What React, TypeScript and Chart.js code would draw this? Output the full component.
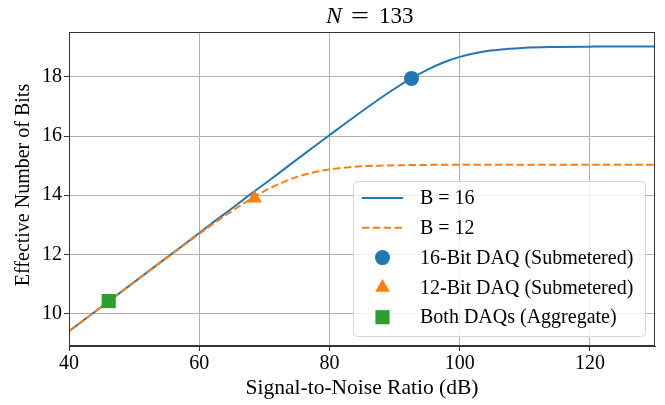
import React, { useEffect, useRef } from "react";
import { Chart, registerables } from "chart.js";

Chart.register(...registerables);

const snrDb = [40, 45, 50, 55, 60, 62.5, 65, 67.5, 70, 72.5, 75, 77.5, 80, 85, 87.5, 90, 92.5, 95, 97.5, 100, 102.5, 105, 107.5, 110, 115, 120, 125, 130];
const enob16 = [9.40, 10.23, 11.06, 11.89, 12.72, 13.14, 13.55, 13.97, 14.38, 14.79, 15.21, 15.62, 16.03, 16.84, 17.23, 17.60, 17.94, 18.24, 18.49, 18.68, 18.81, 18.90, 18.95, 18.99, 19.015, 19.025, 19.03, 19.03];
const enob12 = [9.40, 10.23, 11.06, 11.88, 12.69, 13.09, 13.46, 13.82, 14.14, 14.40, 14.62, 14.77, 14.87, 14.98, 15.0, 15.01, 15.02, 15.025, 15.03, 15.03, 15.03, 15.03, 15.03, 15.03, 15.03, 15.03, 15.03, 15.03];

const daq16Point = { x: 92.6, y: 17.95 };
const daq12Point = { x: 68.5, y: 13.9 };
const aggregatePoint = { x: 46.1, y: 10.42 };

const xTicks = [40, 60, 80, 100, 120];
const yTicks = [10, 12, 14, 16, 18];

const seriesLabels = ["B = 16", "B = 12", "16-Bit DAQ (Submetered)", "12-Bit DAQ (Submetered)", "Both DAQs (Aggregate)"];
const titleVar = "N";
const titleEq = "=";
const titleNum = "133";
const xTitle = "Signal-to-Noise Ratio (dB)";
const yTitle = "Effective Number of Bits";

const FONT = "'Liberation Serif', 'DejaVu Serif', serif";
const BLUE = "#1f77b4";
const ORANGE = "#ff7f0e";
const GREEN = "#2ca02c";

export default function App() {
  const ref = useRef<HTMLCanvasElement | null>(null);
  useEffect(() => {
    const canvas = ref.current!;
    const framePlugin = {
      id: "frame",
      afterDraw(chart: any) {
        const { ctx, chartArea: a } = chart;
        ctx.save();
        ctx.strokeStyle = "#333";
        ctx.lineWidth = 1;
        ctx.strokeRect(a.left + 0.5, a.top + 0.5, a.right - a.left - 1, a.bottom - a.top - 1);
        // title
        const cx = (a.left + a.right) / 2;
        ctx.fillStyle = "#000";
        ctx.textBaseline = "alphabetic";
        ctx.save();
        ctx.translate(cx - 2, 23);
        ctx.scale(1.35, 1);
        ctx.textAlign = "center";
        ctx.font = `24px ${FONT}`;
        ctx.fillText(titleEq, 0, 0);
        ctx.restore();
        ctx.textAlign = "right";
        ctx.font = `italic 24px ${FONT}`;
        ctx.fillText(titleVar, cx - 20, 23);
        ctx.textAlign = "left";
        ctx.font = `23px ${FONT}`;
        ctx.fillText(titleNum, cx + 17, 23);

        // axis titles
        ctx.textAlign = "center";
        ctx.textBaseline = "middle";
        ctx.font = `21.5px ${FONT}`;
        ctx.fillText(xTitle, (a.left + a.right) / 2, 388);
        ctx.save();
        ctx.translate(24, (a.top + a.bottom) / 2 - 4);
        ctx.rotate(-Math.PI / 2);
        ctx.font = `20px ${FONT}`;
        ctx.fillText(yTitle, 0, 0);
        ctx.restore();
        ctx.textAlign = "left";

        // legend
        const lw = 292, lh = 155;
        const lx = a.right - 10 - lw, ly = a.bottom - 10 - lh;
        ctx.beginPath();
        ctx.roundRect(lx + 0.5, ly + 0.5, lw, lh, 4);
        ctx.fillStyle = "rgba(255,255,255,0.8)";
        ctx.fill();
        ctx.strokeStyle = "#d6d6d6";
        ctx.lineWidth = 1;
        ctx.stroke();
        const ds = chart.data.datasets;
        const rowH = 29.8;
        for (let i = 0; i < ds.length; i++) {
          const y = ly + 17 + i * rowH;
          const d = ds[i];
          ctx.save();
          if (i < 2) {
            ctx.strokeStyle = d.borderColor;
            ctx.lineWidth = d.borderWidth;
            ctx.setLineDash(d.borderDash || []);
            ctx.beginPath();
            ctx.moveTo(lx + 9, y);
            ctx.lineTo(lx + 50, y);
            ctx.stroke();
          } else {
            ctx.fillStyle = d.backgroundColor;
            const style = d.pointStyle;
            const r = d.pointRadius;
            const px = lx + 29.5;
            if (style === "circle") {
              ctx.beginPath();
              ctx.arc(px, y, r, 0, Math.PI * 2);
              ctx.fill();
            } else if (style === "triangle") {
              ctx.beginPath();
              ctx.moveTo(px, y - r);
              ctx.lineTo(px + r * 0.866, y + r * 0.5);
              ctx.lineTo(px - r * 0.866, y + r * 0.5);
              ctx.closePath();
              ctx.fill();
            } else {
              const s = r * Math.SQRT1_2;
              ctx.fillRect(px - s, y - s, 2 * s, 2 * s);
            }
          }
          ctx.restore();
          ctx.fillStyle = "#000";
          ctx.font = `20px ${FONT}`;
          ctx.textBaseline = "middle";
          ctx.fillText(d.label, lx + 67, y + 1);
        }
        ctx.restore();
      },
    };
    const chart = new Chart(canvas, {
      type: "line",
      data: {
        datasets: [
          {
            label: seriesLabels[0],
            data: snrDb.map((x, i) => ({ x, y: enob16[i] })),
            borderColor: BLUE,
            backgroundColor: BLUE,
            borderWidth: 2,
            pointRadius: 0,
            cubicInterpolationMode: "monotone",
            order: 3,
          },
          {
            label: seriesLabels[1],
            data: snrDb.map((x, i) => ({ x, y: enob12[i] })),
            borderColor: ORANGE,
            backgroundColor: ORANGE,
            borderWidth: 2,
            borderDash: [7.5, 3.3],
            pointRadius: 0,
            cubicInterpolationMode: "monotone",
            order: 2,
          },
          {
            type: "scatter",
            label: seriesLabels[2],
            data: [daq16Point],
            backgroundColor: BLUE,
            borderColor: BLUE,
            borderWidth: 0,
            pointStyle: "circle",
            pointRadius: 7.5,
            showLine: false,
            order: 0,
          },
          {
            type: "scatter",
            label: seriesLabels[3],
            data: [daq12Point],
            backgroundColor: ORANGE,
            borderColor: ORANGE,
            borderWidth: 0,
            pointStyle: "triangle",
            pointRadius: 8.5,
            showLine: false,
            order: 0,
          },
          {
            type: "scatter",
            label: seriesLabels[4],
            data: [aggregatePoint],
            backgroundColor: GREEN,
            borderColor: GREEN,
            borderWidth: 0,
            pointStyle: "rect",
            pointRadius: 10,
            showLine: false,
            order: 0,
          },
        ] as any,
      },
      options: {
        animation: false,
        responsive: false,
        layout: { padding: { top: 32, right: 5, left: 40, bottom: 28 } },
        plugins: { legend: { display: false }, title: { display: false }, tooltip: { enabled: false } },
        scales: {
          x: {
            type: "linear",
            min: 40,
            max: 130,
            afterBuildTicks: (s: any) => { s.ticks = xTicks.map((v) => ({ value: v })); },
            afterFit: (s: any) => { s.paddingRight = 0; },
            grid: { color: "#b0b0b0", lineWidth: 1, tickColor: "#333", tickLength: 5 },
            border: { display: true, color: "#333" },
            ticks: { font: { family: FONT, size: 20 }, color: "#000", padding: 1, maxRotation: 0 },
          },
          y: {
            type: "linear",
            min: 8.9,
            max: 19.52,
            afterBuildTicks: (s: any) => { s.ticks = yTicks.map((v) => ({ value: v })); },
            grid: { color: "#b0b0b0", lineWidth: 1, tickColor: "#333", tickLength: 5 },
            border: { display: true, color: "#333" },
            ticks: { font: { family: FONT, size: 20 }, color: "#000", padding: 2 },
          },
        },
      },
      plugins: [framePlugin],
    });
    return () => chart.destroy();
  }, []);
  return (
    <div style={{ position: "fixed", left: 0, top: 0, width: 665, height: 405, background: "#fff" }}>
      <canvas ref={ref} width={665} height={405} style={{ width: 665, height: 405, display: "block" }} />
    </div>
  );
}
